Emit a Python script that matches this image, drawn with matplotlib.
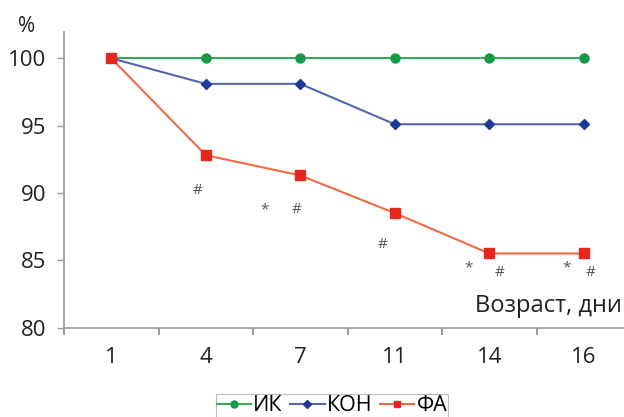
import matplotlib
matplotlib.use("Agg")
import matplotlib.pyplot as plt
from matplotlib.lines import Line2D

plt.rcParams['font.family'] = ['Open Sans', 'DejaVu Sans']

days = ["1", "4", "7", "11", "14", "16"]
ik = [100, 100, 100, 100, 100, 100]
kon = [100, 98.1, 98.1, 95.1, 95.1, 95.1]
fa = [100, 92.8, 91.3, 88.5, 85.5, 85.5]
yticks = [80, 85, 90, 95, 100]

# significance marks: (x position in category units, y value, symbol)
marks_sym = ["#", "*", "#", "#", "*", "#", "*", "#"]
marks_x = [0.91, 1.62, 1.96, 2.87, 3.78, 4.11, 4.82, 5.07]
marks_y = [90.2, 88.7, 88.8, 86.2, 84.4, 84.1, 84.4, 84.1]

fig = plt.figure(figsize=(6.24, 4.17), dpi=100)
ax = fig.add_axes([0.1026, 0.2146, 0.9087, 0.7086])
x = list(range(len(days)))

g_line, g_mark = "#3aa957", "#16994a"
b_line, b_mark = "#5565b0", "#1f3a96"
r_line, r_mark = "#f26a45", "#e8261e"

ax.plot(x, ik, color=g_line, lw=1.5, marker="o", ms=6.5, mfc=g_mark, mec=g_mark, zorder=3)
ax.plot(x, kon, color=b_line, lw=1.5, marker="D", ms=5.5, mfc=b_mark, mec=b_mark, zorder=3)
ax.plot(x, fa, color=r_line, lw=1.5, marker="s", ms=6.5, mfc=r_mark, mec=r_mark, zorder=4)

for s, mx, my in zip(marks_sym, marks_x, marks_y):
    ax.text(mx, my, s, ha="center", va="center", fontsize=11, color="#555555")

ax.set_xlim(-0.5, 5.5)
ax.set_ylim(80, 101.95)
ax.set_xticks(x)
ax.set_xticklabels(days)
ax.set_xticks([i - 0.5 for i in x], minor=True)
ax.set_yticks(yticks)
ax.tick_params(axis="both", labelsize=16, colors="#222222")
ax.tick_params(axis="x", which="major", length=0, pad=14)
ax.tick_params(axis="x", which="minor", length=5, color="#888888", width=1.2)
ax.tick_params(axis="y", length=5, color="#999999", pad=8, width=1.0)
for s in ["top", "right"]:
    ax.spines[s].set_visible(False)
for s in ["left", "bottom"]:
    ax.spines[s].set_color("#999999")
    ax.spines[s].set_linewidth(1.2)

fig.text(0.043, 0.937, "%", fontsize=15, ha="center", va="center", color="#222222")
ax.text(5.4, 81.6, "Возраст, дни", ha="right", va="center", fontsize=17, color="#222222")

handles = [
    Line2D([], [], color=g_line, lw=1.5, marker="o", ms=5, mfc=g_mark, mec=g_mark),
    Line2D([], [], color=b_line, lw=1.5, marker="D", ms=4, mfc=b_mark, mec=b_mark),
    Line2D([], [], color=r_line, lw=1.5, marker="s", ms=5, mfc=r_mark, mec=r_mark),
]
leg = fig.legend(handles, ["ИК", "КОН", "ФА"], loc="center", bbox_to_anchor=(0.532, 0.027),
                 ncol=3, fontsize=15.5, frameon=True, fancybox=False, edgecolor="#aaaaaa",
                 handlelength=1.6, handletextpad=0.1, columnspacing=0.35, borderpad=0.05,
                 borderaxespad=0)
leg.get_frame().set_linewidth(0.8)

fig.savefig("out.png", dpi=100)
